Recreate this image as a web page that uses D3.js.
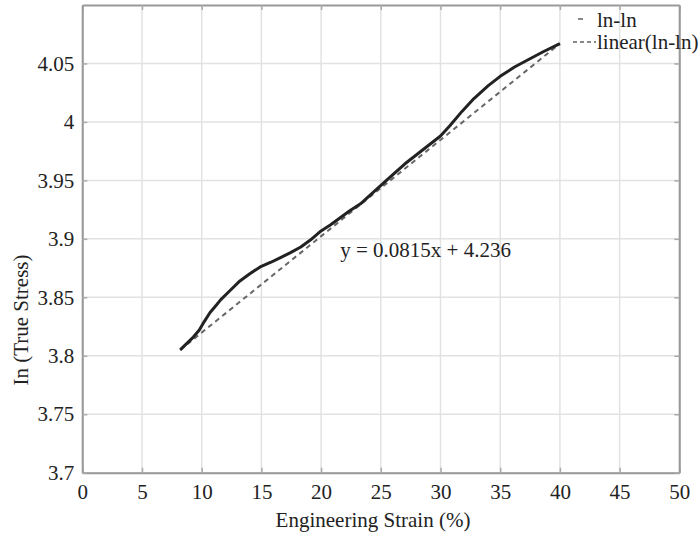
<!DOCTYPE html>
<html><head><meta charset="utf-8">
<script src="https://cdn.jsdelivr.net/npm/d3@7/dist/d3.min.js"></script>
<style>body{margin:0;background:#fff}svg{display:block}</style>
</head><body>
<svg id="c" width="700" height="537"></svg>
<script>
const strain = [8.2,8.8,9.3,9.8,10.2,10.7,11.2,11.6,12.4,13.2,14.0,14.9,15.8,16.6,17.4,18.3,19.1,19.9,20.8,21.6,22.4,23.3,24.5,25.8,27.0,28.5,30.0,30.8,31.8,32.8,34.0,35.0,36.2,37.3,38.6,40.0];
const lnStress = [3.805,3.811,3.816,3.822,3.829,3.837,3.843,3.848,3.856,3.864,3.870,3.876,3.880,3.884,3.888,3.893,3.899,3.906,3.912,3.918,3.924,3.930,3.941,3.953,3.964,3.976,3.988,3.997,4.009,4.020,4.031,4.039,4.047,4.053,4.060,4.067];
const fitX = [8.2, 40.0];
const fitY = [3.805, 4.067];
const xTicks = [0,5,10,15,20,25,30,35,40,45,50];
const yTicks = [3.7,3.75,3.8,3.85,3.9,3.95,4.0,4.05];
const yTickLabels = ["3.7","3.75","3.8","3.85","3.9","3.95","4","4.05"];
const legendLabels = ["ln-ln","linear(ln-ln)"];
const equation = "y = 0.0815x + 4.236";
const xTitle = "Engineering Strain (%)";
const yTitle = "In (True Stress)";

const FONT = '"Liberation Serif"';
const L=82.3, R=679.3, T=5, B=472.7;
const svg = d3.select("#c");
const x = d3.scaleLinear().domain([0,50]).range([L,R]);
const y = d3.scaleLinear().domain([3.7,4.1]).range([B,T]);

const g = svg.append("g");
g.selectAll(".gx").data(xTicks).join("line")
  .attr("x1",d=>x(d)).attr("x2",d=>x(d)).attr("y1",T).attr("y2",B)
  .attr("stroke","#e2e2e2").attr("stroke-width",1.5);
g.selectAll(".gy").data(yTicks).join("line")
  .attr("x1",L).attr("x2",R).attr("y1",d=>y(d)).attr("y2",d=>y(d))
  .attr("stroke","#e2e2e2").attr("stroke-width",1.5);

const axB = d3.axisBottom(x).tickValues(xTicks).tickSizeInner(-5).tickSizeOuter(0).tickFormat(d3.format("d")).tickPadding(11);
const axT = d3.axisTop(x).tickValues(xTicks).tickSizeInner(-5).tickSizeOuter(0).tickFormat("");
const axL = d3.axisLeft(y).tickValues(yTicks).tickSizeInner(-5).tickSizeOuter(0).tickFormat((d,i)=>yTickLabels[i]).tickPadding(8);
const axR = d3.axisRight(y).tickValues(yTicks).tickSizeInner(-5).tickSizeOuter(0).tickFormat("");
function style(sel){
  sel.attr("font-family",null).attr("font-size",null);
  sel.select(".domain").attr("stroke","#999").attr("stroke-width",2);
  sel.selectAll(".tick line").attr("stroke","#aaa").attr("stroke-width",1.5);
  sel.selectAll(".tick text").style("font-family",FONT).style("font-size","21px").attr("fill","#222");
}
svg.append("g").attr("transform",`translate(0,${B})`).call(axB).call(style);
svg.append("g").attr("transform",`translate(0,${T})`).call(axT).call(style);
svg.append("g").attr("transform",`translate(${L},0)`).call(axL).call(style);
svg.append("g").attr("transform",`translate(${R},0)`).call(axR).call(style);

const pts = strain.map((s,i)=>[s,lnStress[i]]);
const line = d3.line().x(d=>x(d[0])).y(d=>y(d[1]));
svg.append("path").datum(fitX.map((s,i)=>[s,fitY[i]])).attr("d",line)
  .attr("fill","none").attr("stroke","#666").attr("stroke-width",2).attr("stroke-dasharray","5,4");
svg.append("path").datum(pts).attr("d",line)
  .attr("fill","none").attr("stroke","#222").attr("stroke-width",3).attr("stroke-linejoin","round");

function txt(sel){ return sel.style("font-family",FONT).style("font-size","21px").attr("fill","#222"); }

svg.append("text").attr("x",x(21.6)).attr("y",y(3.8845)).text(equation).call(txt);

svg.append("line").attr("x1",578).attr("x2",583).attr("y1",19).attr("y2",19).attr("stroke","#888").attr("stroke-width",2);
svg.append("line").attr("x1",573).attr("x2",596).attr("y1",42).attr("y2",42).attr("stroke","#888").attr("stroke-width",2).attr("stroke-dasharray","4,3");
svg.selectAll(".lg").data(legendLabels).join("text")
  .attr("x",597).attr("y",(d,i)=>27+i*22).text(d=>d).call(txt);

svg.append("text").attr("x",373).attr("y",527).attr("text-anchor","middle").text(xTitle).call(txt);
svg.append("text").attr("transform","translate(28,320) rotate(-90)").attr("text-anchor","middle").text(yTitle).call(txt);
</script>
</body></html>
